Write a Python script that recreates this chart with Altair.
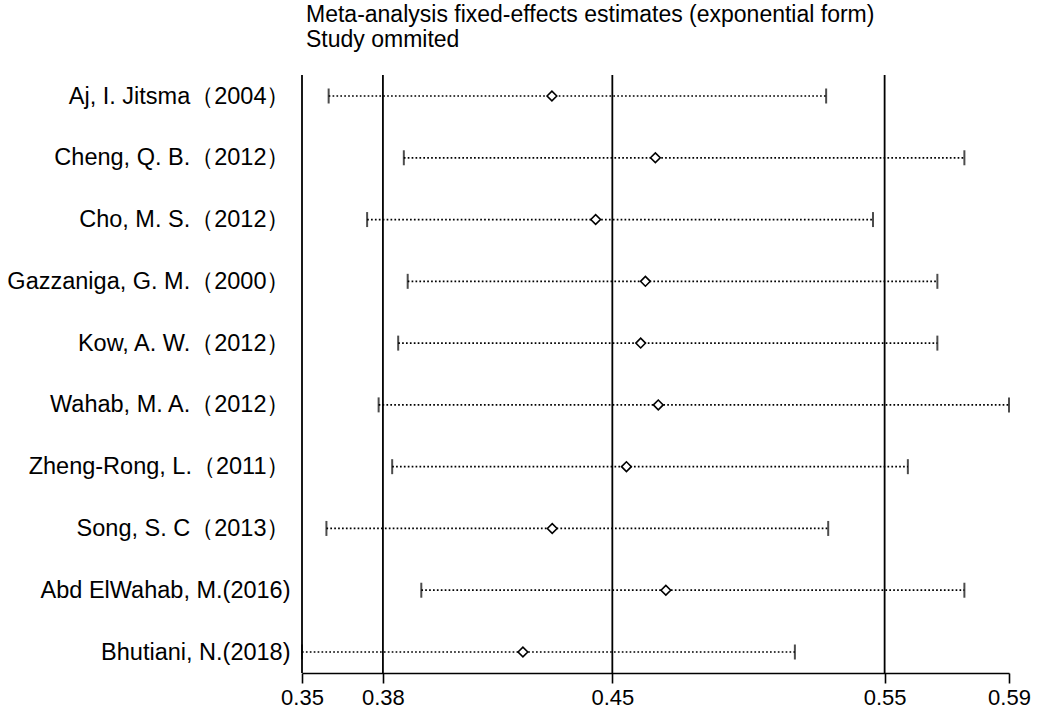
import altair as alt
import pandas as pd

studies = [
    "Aj, I. Jitsma（2004）",
    "Cheng, Q. B.（2012）",
    "Cho, M. S.（2012）",
    "Gazzaniga, G. M.（2000）",
    "Kow, A. W.（2012）",
    "Wahab, M. A.（2012）",
    "Zheng-Rong, L.（2011）",
    "Song, S. C（2013）",
    "Abd ElWahab, M.(2016)",
    "Bhutiani, N.(2018)",
]
lower = [0.3651, 0.3859, 0.3756, 0.3870, 0.3843, 0.3788, 0.3826, 0.3645, 0.3909, 0.3580]
estimate = [0.4304, 0.4645, 0.4445, 0.4611, 0.4595, 0.4655, 0.4547, 0.4305, 0.4681, 0.4213]
upper = [0.5268, 0.5833, 0.5453, 0.5718, 0.5718, 0.6028, 0.5595, 0.5276, 0.5833, 0.5148]

ref_lines = [0.38, 0.45, 0.55]
tick_values = [0.3580, 0.38, 0.45, 0.55, 0.6028]
tick_labels = ["0.35", "0.38", "0.45", "0.55", "0.59"]

title_lines = ["Meta-analysis fixed-effects estimates (exponential form)", "Study ommited"]

df = pd.DataFrame({"study": studies, "lower": lower, "estimate": estimate, "upper": upper})
ref_df = pd.DataFrame({"x": ref_lines})
axis_df = pd.DataFrame({"x": [tick_values[0]]})

label_expr = ""
for v, l in zip(tick_values, tick_labels):
    label_expr += f"abs(datum.value - {v}) < 1e-6 ? '{l}' : "
label_expr += "format(datum.value, '.2f')"

FONT = "Liberation Sans"

xscale = alt.Scale(type="log", domain=[tick_values[0], tick_values[-1]], nice=False, zero=False)
xaxis = alt.Axis(
    values=tick_values, labelExpr=label_expr, title=None, grid=False,
    domain=True, domainColor="black", domainWidth=1.6,
    ticks=True, tickSize=10, tickWidth=1.6, tickColor="black",
    labelFontSize=22, labelFont=FONT, labelColor="black", labelPadding=4,
    labelFlush=False, labelOverlap=False,
)
yscale = alt.Scale(type="point", domain=studies, range=[21, 577], padding=0)
yaxis = alt.Axis(
    title=None, domain=False, ticks=False, grid=False,
    labelFontSize=23.5, labelFont=FONT, labelColor="black", labelPadding=12, labelLimit=0,
)

base = alt.Chart(df)

ci = base.mark_rule(color="black", strokeWidth=1.7, strokeDash=[1.7, 2.2]).encode(
    x=alt.X("lower:Q", scale=xscale, axis=xaxis),
    x2="upper:Q",
    y=alt.Y("study:N", scale=yscale, axis=yaxis, sort=studies),
)

refs = alt.Chart(ref_df).mark_rule(color="black", strokeWidth=1.8).encode(
    x=alt.X("x:Q", scale=xscale)
)
left_line = alt.Chart(axis_df).mark_rule(color="black", strokeWidth=1.8).encode(
    x=alt.X("x:Q", scale=xscale)
)

lo_bar = base.mark_tick(color="black", thickness=2, size=15).encode(
    x=alt.X("lower:Q", scale=xscale),
    y=alt.Y("study:N", scale=yscale, sort=studies),
)
hi_bar = base.mark_tick(color="black", thickness=2, size=15).encode(
    x=alt.X("upper:Q", scale=xscale),
    y=alt.Y("study:N", scale=yscale, sort=studies),
)
pts = base.mark_point(shape="diamond", size=95, fill="white", fillOpacity=1,
                      stroke="black", strokeWidth=1.6, filled=False).encode(
    x=alt.X("estimate:Q", scale=xscale),
    y=alt.Y("study:N", scale=yscale, sort=studies),
)

chart = alt.layer(ci, refs, left_line, lo_bar, hi_bar, pts).properties(
    width=707,
    height=598,
    background="white",
    title=alt.TitleParams(
        text=title_lines, anchor="start", frame="group", font=FONT, fontSize=23,
        fontWeight="normal", color="black", lineHeight=25, offset=22, dx=4,
    ),
    autosize=alt.AutoSizeParams(type="none"),
    padding={"left": 302, "top": 75, "right": 29, "bottom": 39},
).configure_view(strokeWidth=0, stroke="transparent")

chart.save("out.html", embed_options={"renderer": "svg", "actions": False})
